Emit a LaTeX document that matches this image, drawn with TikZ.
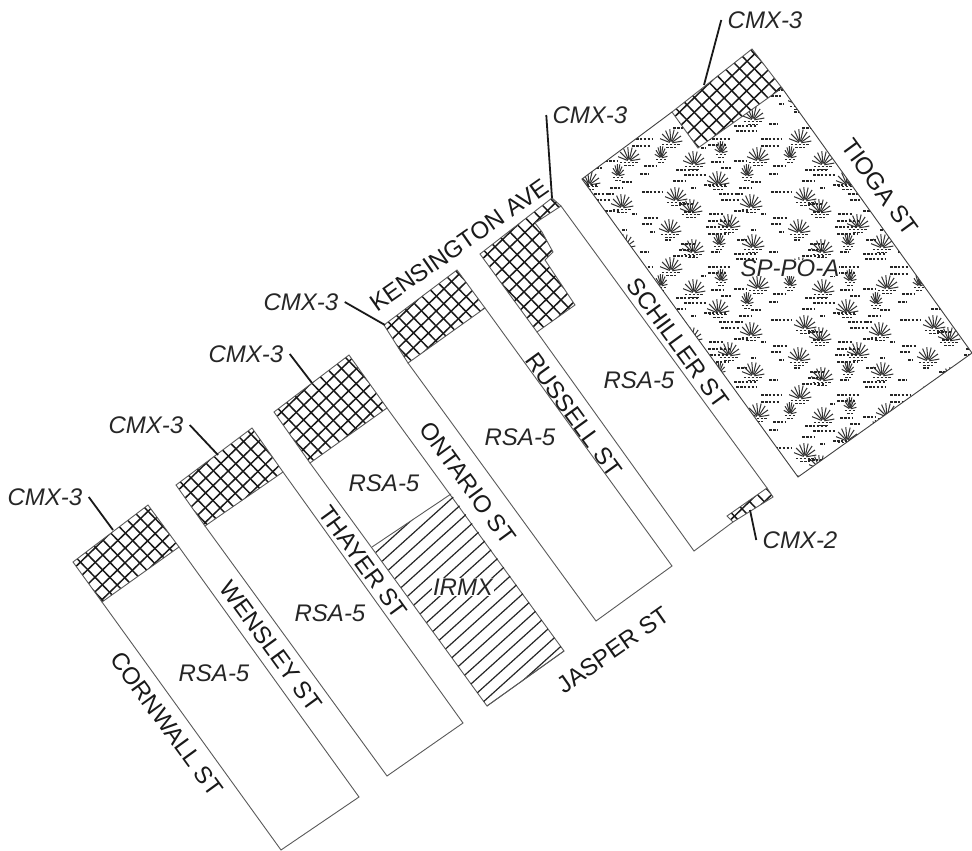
\documentclass[tikz,border=0pt]{standalone}
\usepackage{fontspec}
\setmainfont{Liberation Sans}
\begin{document}
\begin{tikzpicture}[x=1pt, y=-1pt, line width=0.8pt,
    lotline/.style={draw=black!65, line width=0.9pt},
    leader/.style={line width=1.8pt, black!90},
    gridline/.style={line width=1.5pt, black!90},
    hatchline/.style={line width=1.2pt, black!85},
    fanline/.style={line width=1pt, black!80},
    dotrow/.style={line width=1.5pt, black!85, dash pattern=on 2.6pt off 1.3pt},
    zonelabel/.style={font=\fontsize{24}{24}\selectfont\itshape, text=black!85, inner sep=1pt},
    cmxlabel/.style={zonelabel, inner sep=6pt},
    streetlabel/.style={font=\fontsize{24}{24}\selectfont, text=black!90, inner sep=1pt}]

    \useasboundingbox (0,0) rectangle (972,851);

    % Griglia a quadretti: #1 = poligono, #2,#3 = origine, passo 10.5 a 44 gradi
    \newcommand{\griglia}[3]{
        \begin{scope}
            \clip #1;
            \foreach \k in {-20,...,20} {
                \draw[gridline] ({#2+(\k+.5)*7.3-158}, {#3+(\k+.5)*7.55+153})
                             -- ({#2+(\k+.5)*7.3+158}, {#3+(\k+.5)*7.55-153});
                \draw[gridline] ({#2+(\k+.5)*7.55-153}, {#3-(\k+.5)*7.3-158})
                             -- ({#2+(\k+.5)*7.55+153}, {#3-(\k+.5)*7.3+158});
            }
        \end{scope}
        \draw[lotline] #1;
    }

    % Ciuffo: #1 = x, #2 = y, #3 = semilarghezza, #4 = altezza
    \newcommand{\ciuffo}[4]{
        \foreach \a in {8,30,...,172} {
            \draw[fanline] ({#1+0.12*#3*cos(\a)}, {#2+6-0.12*#4*sin(\a)}) -- ({#1+#3*cos(\a)}, {#2+6-#4*sin(\a)});
        }
        \draw[dotrow] ({#1-0.8*#3}, #2+7.5) -- ({#1+0.8*#3}, #2+7.5);
        \draw[dotrow] ({#1-0.4*#3}, #2+10.5) -- ({#1+0.4*#3}, #2+10.5);
    }

    % -- Isolati --
    \draw[lotline] (102,602) -- (281,850) -- (359,797) -- (179,547);
    \draw[lotline] (205,526) -- (387,776) -- (463,723) -- (283,472);
    \draw[lotline] (310,463) -- (487,706) -- (564,651) -- (387,408);
    \draw[lotline] (408,363) -- (596,621) -- (672,566) -- (485,308);
    \draw[lotline] (537,332) -- (694,551) -- (733,522);
    \draw[lotline] (561,206) -- (767,488);

    % -- IRMX: tratteggio --
    \begin{scope}
        \clip (372,547) -- (451,494) -- (564,651) -- (487,706) -- cycle;
        \foreach \k in {-20,...,1} {
            \draw[hatchline] ({461+\k*7.2}, {722+\k*8}) -- ({676+\k*7.2}, {528+\k*8});
        }
    \end{scope}
    \draw[lotline] (372,547) -- (451,494) (487,706) -- (564,651);

    % -- Zone a griglia (CMX) --
    \griglia{(73,562) -- (148,505) -- (179,547) -- (102,602) -- cycle}{73}{562}
    \griglia{(176,485) -- (252,428) -- (283,472) -- (205,526) -- cycle}{176}{485}
    \griglia{(274,412) -- (349,355) -- (387,408) -- (310,463) -- cycle}{274}{412}
    \griglia{(384,325) -- (457,270) -- (485,308) -- (408,363) -- cycle}{384}{325}
    \griglia{(480,254) -- (552,198) -- (561,206) -- (535,223) -- (542,232) -- (553,252) -- (545,260) -- (575,305) -- (537,332) -- cycle}{480}{254}
    \griglia{(727,516) -- (767,488) -- (773,497) -- (733,522) -- cycle}{727}{516}
    \griglia{(672,112) -- (752,49) -- (782,88) -- (698,148) -- cycle}{672}{112}

    % -- SP-PO-A: motivo ripetuto --
    \begin{scope}
        \clip (582,179) -- (672,112) -- (698,148) -- (782,88) -- (972,353) -- (798,477) -- cycle;
        \foreach \i in {-2,...,1} {
            \foreach \j in {-2,...,1} {
                \begin{scope}[shift={({790+129*\i}, {280+128*\j})}]
                    \foreach \u/\v in {33/7, 97/3, 57/27, 15/43, 90/50, 30/55, 9/75, 68/70, 32/95, 92/90, 10/113} {
                        \ciuffo{\u}{\v}{11.5}{14}
                    }
                    \foreach \u/\v in {0/0, 86/18, 58/87, 60/123} {
                        \ciuffo{\u}{\v}{6.5}{12}
                    }
                    \foreach \u/\v/\w in {73/9/12, 15/18/22, 23/23/23, 12/29/13, 43/33/22, 110/40/20, 58/42/18, 60/48/18,
                        73/59/15, 18/52/15, 23/60/10, 48/62/14, 47/69/22, 45/75/23, 47/82/20, 20/92/15, 18/98/15,
                        73/102/22, 75/107/20, 12/104/23, 47/115/23, 47/121/18, 100/115/20, 100/122/18,
                        50/10/12, 60/16/10, 112/14/12, 108/22/8, 78/36/12, 76/42/6, 112/66/14, 110/72/10, 90/30/10,
                        108/100/9, 76/88/10, 90/78/4, 4/88/6, 100/62/4, 118/80/5, 50/100/8, 30/36/4, 40/124/4} {
                        \draw[dotrow] (\u, \v) -- ++(\w, 0);
                    }
                \end{scope}
            }
        }
    \end{scope}
    \draw[lotline, black!75] (672,112) -- (582,179) -- (798,477) -- (972,353) -- (782,88);

    % -- Etichette di zona --
    \node[zonelabel] (rsaA) at (214,673) {RSA-5};
    \node[zonelabel] (rsaB) at (330,613) {RSA-5};
    \node[zonelabel] (rsaC) at (384,483) {RSA-5};
    \node[zonelabel] (rsaD) at (520,437) {RSA-5};
    \node[zonelabel] (rsaE) at (639,380) {RSA-5};
    \node[zonelabel, fill=white] (irmx) at (463,587) {IRMX};
    \node[zonelabel, fill=white, inner sep=0pt] (spoa) at (790,268) {SP-PO-A};

    % -- Strade --
    \node[streetlabel, rotate=-54] (cornwall) at (167,724) {CORNWALL ST};
    \node[streetlabel, rotate=-54] (wensley) at (271,646) {WENSLEY ST};
    \node[streetlabel, rotate=-54] (thayer) at (363,562) {THAYER ST};
    \node[streetlabel, rotate=-54] (ontario) at (468,483) {ONTARIO ST};
    \node[streetlabel, rotate=-54] (russell) at (574,415) {RUSSELL ST};
    \node[streetlabel, rotate=-54] (schiller) at (678,343) {SCHILLER ST};
    \node[streetlabel, rotate=-54] (tioga) at (880,187) {TIOGA ST};
    \node[streetlabel, rotate=35] (kensington) at (459,245) {KENSINGTON AVE};
    \node[streetlabel, rotate=35] (jasper) at (613,650) {JASPER ST};

    % -- Richiami CMX --
    \node[cmxlabel] (cmxA) at (45,497) {CMX-3};
    \node[cmxlabel] (cmxB) at (146,425) {CMX-3};
    \node[cmxlabel] (cmxC) at (246,354) {CMX-3};
    \node[cmxlabel] (cmxD) at (301,302) {CMX-3};
    \node[cmxlabel] (cmxE) at (590,115) {CMX-3};
    \node[cmxlabel] (cmxF) at (765,20) {CMX-3};
    \node[cmxlabel] (cmxG) at (800,540) {CMX-2};

    \coordinate (cmxApt) at (113,530);
    \coordinate (cmxBpt) at (218,455);
    \coordinate (cmxCpt) at (312,383);
    \coordinate (cmxDpt) at (385,325);
    \coordinate (cmxEpt) at (552,198);
    \coordinate (cmxFpt) at (704,85);
    \coordinate (cmxGpt) at (750,510);

    \draw[leader] (cmxA.east) -- (cmxApt);
    \draw[leader] (cmxB.east) -- (cmxBpt);
    \draw[leader] (cmxC.east) -- (cmxCpt);
    \draw[leader] (cmxD.east) -- (cmxDpt);
    \draw[leader] (cmxE.west) -- (cmxEpt);
    \draw[leader] (cmxF.west) -- (cmxFpt);
    \draw[leader] (cmxG.west) -- (cmxGpt);

\end{tikzpicture}
\end{document}
